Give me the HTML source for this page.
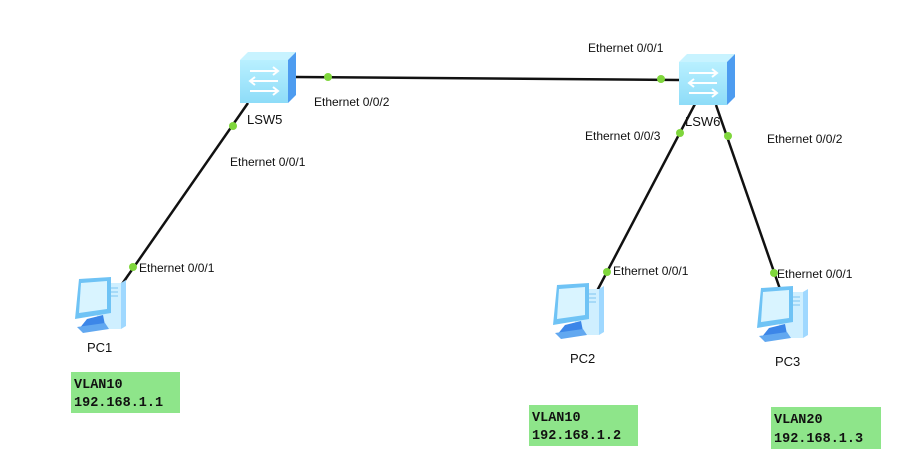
<!DOCTYPE html>
<html><head><meta charset="utf-8"><style>
html,body{margin:0;padding:0;background:#fff;}
svg{display:block}
text{font-family:"Liberation Sans",sans-serif;font-size:12px;fill:#111}
.m{font-family:"Liberation Mono",monospace;font-size:13.5px;fill:#111;font-weight:bold}
</style></head><body>
<svg width="924" height="472" viewBox="0 0 924 472" xmlns="http://www.w3.org/2000/svg">
<defs>
<linearGradient id="sf" x1="0" y1="0" x2="0" y2="1"><stop offset="0" stop-color="#b9f0ff"/><stop offset="1" stop-color="#8edcf8"/></linearGradient>
<g id="sw">
  <path d="M0 8 L8 0 L56 0 L48 8 Z" fill="#c8f3ff"/>
  <rect x="0" y="8" width="48" height="43" fill="url(#sf)"/>
  <path d="M48 8 L56 0 L56 43 L48 51 Z" fill="#4d9cf0"/>
  <g stroke="#fff" stroke-width="2" fill="none">
    <path d="M10 19 H38 M33 15 L38 19 L33 23"/>
    <path d="M38 29 H10 M15 25 L10 29 L15 33"/>
    <path d="M10 39 H38 M33 35 L38 39 L33 43"/>
  </g>
</g>
<g id="pc">
  <path d="M24 6 L48 6 L48 52 L24 52 Z" fill="#cfefff"/>
  <path d="M48 6 L53 3 L53 49 L48 52 Z" fill="#9fd8ff"/>
  <g stroke="#7cc4f0" stroke-width="1"><path d="M37 11 H45 M37 15 H45 M37 19 H45"/></g>
  <path d="M6 2 L38 0 L38 36 L2 42 Z" fill="#6fc3f5"/>
  <path d="M8 6 L34 4 L34 32 L6 36 Z" fill="#d9f4ff"/>
  <path d="M14 42 L30 38 L32 48 L6 52 Z" fill="#3c86e8"/>
  <path d="M4 50 L32 46 L36 52 L10 56 Z" fill="#62a8f0"/>
</g>
</defs>
<g stroke="#111" stroke-width="2.5">
  <line x1="296" y1="77" x2="680" y2="80"/>
  <line x1="248" y1="103" x2="120" y2="287"/>
  <line x1="695" y1="104" x2="597" y2="291"/>
  <line x1="716" y1="105" x2="781" y2="292"/>
</g>
<use href="#sw" x="240" y="52"/>
<use href="#sw" x="679" y="54"/>
<use href="#pc" x="73" y="277"/>
<use href="#pc" x="551" y="283"/>
<use href="#pc" x="755" y="286"/>
<g fill="#7fd63c">
  <circle cx="328" cy="77" r="4"/><circle cx="661" cy="79" r="4"/>
  <circle cx="233" cy="126" r="4"/><circle cx="133" cy="267" r="4"/>
  <circle cx="680" cy="133" r="4"/><circle cx="607" cy="272" r="4"/>
  <circle cx="728" cy="136" r="4"/><circle cx="774" cy="273" r="4"/>
</g>
<text x="314" y="106">Ethernet 0/0/2</text>
<text x="588" y="52">Ethernet 0/0/1</text>
<text x="230" y="166">Ethernet 0/0/1</text>
<text x="139" y="272">Ethernet 0/0/1</text>
<text x="585" y="140">Ethernet 0/0/3</text>
<text x="767" y="143">Ethernet 0/0/2</text>
<text x="613" y="275">Ethernet 0/0/1</text>
<text x="777" y="278">Ethernet 0/0/1</text>
<text x="247" y="124" style="font-size:13px">LSW5</text>
<text x="685" y="126" style="font-size:13px">LSW6</text>
<text x="87" y="352" style="font-size:13px">PC1</text>
<text x="570" y="363" style="font-size:13px">PC2</text>
<text x="775" y="366" style="font-size:13px">PC3</text>
<rect x="71" y="372" width="109" height="41" fill="#8ee58a"/>
<text class="m" x="74" y="388">VLAN10</text><text class="m" x="74" y="406">192.168.1.1</text>
<rect x="529" y="405" width="109" height="41" fill="#8ee58a"/>
<text class="m" x="532" y="421">VLAN10</text><text class="m" x="532" y="439">192.168.1.2</text>
<rect x="771" y="407" width="110" height="42" fill="#8ee58a"/>
<text class="m" x="774" y="423">VLAN20</text><text class="m" x="774" y="442">192.168.1.3</text>
</svg>
</body></html>
